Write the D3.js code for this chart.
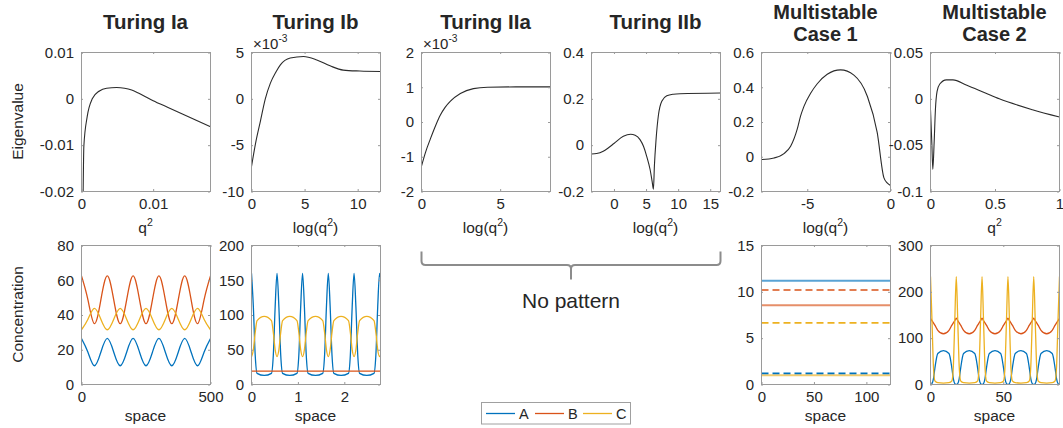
<!DOCTYPE html>
<html>
<head>
<meta charset="utf-8">
<script src="https://cdn.jsdelivr.net/npm/d3@7"></script>
<style>
body { margin: 0; background: #fff; }
</style>
</head>
<body>
<script>
// ---------- data ----------
var seriesNames = ['A', 'B', 'C'];
var seriesColors = ['#0072BD', '#D95319', '#EDB120'];

// top row : dispersion relations
var qIa   = [0.00023, 0.00033, 0.0008, 0.0015, 0.0025, 0.0035, 0.0049, 0.006, 0.007, 0.008, 0.009, 0.010, 0.012, 0.014, 0.016, 0.018];
var eigIa = [-0.02, -0.0102, -0.0038, 0, 0.0017, 0.0023, 0.00245, 0.0023, 0.0019, 0.0012, 0.0004, -0.0004, -0.0018, -0.0032, -0.0046, -0.006];

var logqIb = [0, 0.4, 0.84, 1.3, 1.78, 2.3, 2.72, 3.65, 4.9, 6.15, 7.4, 8.64, 10.2, 12.15];
var eigIb  = [-7.3, -4.7, -2.4, 0, 1.7, 2.9, 3.67, 4.4, 4.57, 4.2, 3.56, 3.1, 3.0, 2.95];   // x 10^-3

var logqIIa = [0, 0.25, 0.57, 0.9, 1.2, 1.5, 1.84, 2.47, 3.3, 4.2, 6, 8.2];
var eigIIa  = [-1.27, -0.88, -0.48, -0.1, 0.2, 0.42, 0.6, 0.82, 0.96, 1.0, 1.01, 1.01]; // x 10^-3

var logqIIb = [-3.5, -2.7, -1.67, -0.9, 0, 1.46, 2.6, 3.3, 4.06, 4.6, 5.1, 5.63, 5.94, 6.15, 6.3, 6.56, 6.93, 7.45, 8.23, 9.27, 10.3, 16.6];
var eigIIb  = [-0.038, -0.036, -0.026, -0.012, 0.007, 0.038, 0.047, 0.043, 0.024, -0.005, -0.048, -0.105, -0.155, -0.19, -0.09, 0.024, 0.13, 0.19, 0.213, 0.22, 0.222, 0.225];

var logqMS1 = [-7.75, -7.0, -6.4, -6.0, -5.6, -5.4, -5.2, -4.8, -4.4, -3.8, -3.0, -2.2, -1.4, -0.8, -0.4, -0.2, 0];
var eigMS1  = [-0.016, -0.007, 0.018, 0.06, 0.16, 0.235, 0.29, 0.365, 0.42, 0.475, 0.5, 0.47, 0.35, 0.14, -0.12, -0.15, -0.165];

var qMS2   = [0, 0.0103, 0.018, 0.028, 0.038, 0.051, 0.072, 0.123, 0.174, 0.277, 0.43, 0.533, 0.79, 1];
var eigMS2 = [-0.0117, -0.0477, -0.076, -0.048, -0.012, 0.008, 0.016, 0.0205, 0.0205, 0.015, 0.006, 0, -0.0117, -0.0196];

// bottom row : concentration profiles
var spaceIa = [0, 25, 50, 75, 100, 125, 150, 175, 200, 225, 250, 275, 300, 325, 350, 375, 400, 425, 450, 475, 500];
var concIaA = [26.5, 18.6, 10.8, 18.6, 26.5, 18.6, 10.8, 18.6, 26.5, 18.6, 10.8, 18.6, 26.5, 18.6, 10.8, 18.6, 26.5, 18.6, 10.8, 18.6, 26.5];
var concIaB = [62.5, 48.7, 35, 48.7, 62.5, 48.7, 35, 48.7, 62.5, 48.7, 35, 48.7, 62.5, 48.7, 35, 48.7, 62.5, 48.7, 35, 48.7, 62.5];
var concIaC = [31.5, 37.6, 43.8, 37.6, 31.5, 37.6, 43.8, 37.6, 31.5, 37.6, 43.8, 37.6, 31.5, 37.6, 43.8, 37.6, 31.5, 37.6, 43.8, 37.6, 31.5];

var spaceIb = [0, 0.04, 0.08, 0.12, 0.275,
  0.43, 0.47, 0.51, 0.55, 0.59, 0.63, 0.67, 0.825,
  0.98, 1.02, 1.06, 1.10, 1.14, 1.18, 1.22, 1.38,
  1.535, 1.575, 1.615, 1.655, 1.695, 1.735, 1.775, 1.93,
  2.09, 2.13, 2.17, 2.21, 2.25, 2.29, 2.33, 2.485,
  2.64, 2.68, 2.72, 2.76, 2.78];
var concIbA = [160, 112, 42, 16, 13,
  16, 42, 112, 160, 112, 42, 16, 13,
  16, 42, 112, 160, 112, 42, 16, 13,
  16, 42, 112, 160, 112, 42, 16, 13,
  16, 42, 112, 160, 112, 42, 16, 13,
  16, 42, 112, 160, 155];
var concIbC = [40, 50, 75, 92, 98,
  92, 75, 50, 40, 50, 75, 92, 98,
  92, 75, 50, 40, 50, 75, 92, 98,
  92, 75, 50, 40, 50, 75, 92, 98,
  92, 75, 50, 40, 50, 75, 92, 98,
  92, 75, 50, 40, 42];
var spaceIbB = [0, 2.78];
var concIbB  = [19.3, 19.3];

var spaceMS1 = [0, 123];
var levelsSolid  = [11.2, 8.55, 1.0];   // A, B, C
var levelsDashed = [1.2, 10.2, 6.65];   // A, B, C

var spaceMS2 = [0, 1, 2, 3, 5, 8.9, 12.7, 14.7, 15.7, 16.7,
  17.7, 18.7, 19.7, 20.7, 22.7, 26.6, 30.4, 32.4, 33.4, 34.4,
  35.4, 36.4, 37.4, 38.4, 40.4, 44.3, 48.2, 50.2, 51.2, 52.2,
  53.2, 54.2, 55.2, 56.2, 58.2, 62.1, 65.9, 67.9, 68.9, 69.9,
  70.9, 71.9, 72.9, 73.9, 75.9, 79.8, 83.6, 85.6, 86.6, 87.6,
  88.6];
var concMS2A = [0, 2, 12, 35, 67, 73, 67, 35, 12, 2,
  0, 2, 12, 35, 67, 73, 67, 35, 12, 2,
  0, 2, 12, 35, 67, 73, 67, 35, 12, 2,
  0, 2, 12, 35, 67, 73, 67, 35, 12, 2,
  0, 2, 12, 35, 67, 73, 67, 35, 12, 2,
  0];
var concMS2B = [143, 138, 133, 128, 117, 109.5, 117, 128, 133, 138,
  143, 138, 133, 128, 117, 109.5, 117, 128, 133, 138,
  143, 138, 133, 128, 117, 109.5, 117, 128, 133, 138,
  143, 138, 133, 128, 117, 109.5, 117, 128, 133, 138,
  143, 138, 133, 128, 117, 109.5, 117, 128, 133, 138,
  143];
var concMS2C = [233, 140, 40, 8, 4, 3, 4, 8, 40, 140,
  233, 140, 40, 8, 4, 3, 4, 8, 40, 140,
  233, 140, 40, 8, 4, 3, 4, 8, 40, 140,
  233, 140, 40, 8, 4, 3, 4, 8, 40, 140,
  233, 140, 40, 8, 4, 3, 4, 8, 40, 140,
  233];

// axis limits and ticks
var titles = [['Turing Ia'], ['Turing Ib'], ['Turing IIa'], ['Turing IIb'], ['Multistable', 'Case 1'], ['Multistable', 'Case 2']];
var topXLabels = [['q', '^2'], ['log(q', '^2', ')'], ['log(q', '^2', ')'], ['log(q', '^2', ')'], ['log(q', '^2', ')'], ['q', '^2']];
var topXDomains = [[0, 0.018], [0, 12.15], [0, 8.2], [-3.5, 16.6], [-7.75, 0], [0, 1]];
var topYDomains = [[-0.02, 0.01], [-10, 5], [-2, 2], [-0.2, 0.4], [-0.2, 0.6], [-0.1, 0.05]];
var topXTicks = [[0, 0.01], [0, 5, 10], [0, 5], [0, 5, 10, 15], [-5, 0], [0, 0.5, 1]];
var topYTicks = [[-0.02, -0.01, 0, 0.01], [-10, -5, 0, 5], [-2, -1, 0, 1, 2], [-0.2, 0, 0.2, 0.4], [-0.2, 0, 0.2, 0.4, 0.6], [-0.1, -0.05, 0, 0.05]];
var topExponent = [null, '-3', '-3', null, null, null];

var botXDomains = {0: [0, 500], 1: [0, 2.78], 4: [0, 123], 5: [0, 88.6]};
var botYDomains = {0: [0, 80], 1: [0, 200], 4: [0, 15], 5: [0, 300]};
var botXTicks = {0: [0, 500], 1: [0, 1, 2], 4: [0, 50, 100], 5: [0, 50]};
var botYTicks = {0: [0, 20, 40, 60, 80], 1: [0, 50, 100, 150, 200], 4: [0, 5, 10, 15], 5: [0, 100, 200, 300]};

// ---------- layout ----------
var W = 1063, H = 428;
var lefts = [81, 251, 421, 591, 761, 930];
var pw = 129, ph = 139;
var topRow = 52, botRow = 245;
var boxColor = '#9a9a9a';
var textColor = '#262626';
var curveColor = '#2b2b2b';
var tickFont = 15;
var fontFam = '"Liberation Sans", Arial, Helvetica, sans-serif';

var svg = d3.select('body').append('svg').attr('width', W).attr('height', H);

function richText(parent, x, y, parts, size, anchor, weight) {
  var t = parent.append('text')
    .attr('x', x).attr('y', y)
    .attr('text-anchor', anchor || 'middle')
    .attr('font-size', size)
    .attr('font-family', fontFam)
    .attr('font-weight', weight || 'normal')
    .attr('fill', textColor);
  var raised = false;
  parts.forEach(function(p) {
    var ts = t.append('tspan');
    if (p.charAt(0) === '^') {
      ts.attr('font-size', size * 0.68).attr('dy', -size * 0.45).text(p.slice(1));
      raised = true;
    } else {
      if (raised) { ts.attr('dy', size * 0.45); raised = false; }
      ts.text(p);
    }
  });
  return t;
}

var clipN = 0;
function makePanel(col, top, xDom, yDom) {
  var g = svg.append('g').attr('transform', 'translate(' + lefts[col] + ',' + top + ')');
  var x = d3.scaleLinear().domain(xDom).range([0.5, pw + 0.5]);
  var y = d3.scaleLinear().domain(yDom).range([ph + 0.5, 0.5]);
  var id = 'clip' + (clipN++);
  g.append('clipPath').attr('id', id).append('rect')
    .attr('x', 0.5).attr('y', 0.5).attr('width', pw).attr('height', ph);
  var plot = g.append('g').attr('clip-path', 'url(#' + id + ')');
  return {g: g, plot: plot, x: x, y: y};
}

function styleAxis(sel) {
  sel.select('.domain').remove();
  sel.selectAll('line').attr('stroke', boxColor);
  sel.selectAll('text')
    .attr('font-size', tickFont)
    .attr('font-family', fontFam)
    .attr('fill', textColor);
}

function finishPanel(p, xTicks, yTicks) {
  var g = p.g;
  var fmt = function(d) { return String(d); };
  g.append('rect').attr('x', 0.5).attr('y', 0.5).attr('width', pw).attr('height', ph)
    .attr('fill', 'none').attr('stroke', boxColor);
  g.append('g').attr('transform', 'translate(0,' + ph + ')')
    .call(d3.axisBottom(p.x).tickValues(xTicks).tickSizeInner(-2).tickSizeOuter(0).tickPadding(7).tickFormat(fmt))
    .call(styleAxis);
  g.append('g')
    .call(d3.axisTop(p.x).tickValues(xTicks).tickSizeInner(-2).tickSizeOuter(0).tickFormat(''))
    .call(styleAxis);
  g.append('g')
    .call(d3.axisLeft(p.y).tickValues(yTicks).tickSizeInner(-2).tickSizeOuter(0).tickPadding(7).tickFormat(fmt))
    .call(styleAxis);
  g.append('g').attr('transform', 'translate(' + pw + ',0)')
    .call(d3.axisRight(p.y).tickValues(yTicks).tickSizeInner(-2).tickSizeOuter(0).tickFormat(''))
    .call(styleAxis);
}

function drawLine(p, xs, ys, color, width, curve, dash) {
  var pts = xs.map(function(d, i) { return [d, ys[i]]; });
  var line = d3.line()
    .x(function(d) { return p.x(d[0]); })
    .y(function(d) { return p.y(d[1]); })
    .curve(curve || d3.curveMonotoneX);
  var path = p.plot.append('path').datum(pts)
    .attr('d', line)
    .attr('fill', 'none')
    .attr('stroke', color)
    .attr('stroke-width', width);
  if (dash) path.attr('stroke-dasharray', dash);
  return path;
}

// ---------- top row ----------
var topX = [qIa, logqIb, logqIIa, logqIIb, logqMS1, qMS2];
var topY = [eigIa, eigIb, eigIIa, eigIIb, eigMS1, eigMS2];

for (var c = 0; c < 6; c++) {
  var p = makePanel(c, topRow, topXDomains[c], topYDomains[c]);
  drawLine(p, topX[c], topY[c], curveColor, 1.1);
  finishPanel(p, topXTicks[c], topYTicks[c]);

  var cx = lefts[c] + pw / 2;
  if (titles[c].length === 1) {
    richText(svg, cx, 29, titles[c], 20.5, 'middle', 'bold');
  } else {
    richText(svg, cx, 18.5, [titles[c][0]], 20, 'middle', 'bold');
    richText(svg, cx, 41, [titles[c][1]], 20, 'middle', 'bold');
  }
  richText(svg, cx, 233, topXLabels[c], 15.5);
  if (topExponent[c]) {
    richText(svg, lefts[c] + 2, 49, ['\u00d710', '^' + topExponent[c]], 15, 'start');
  }
}

richText(svg, 0, 0, ['Eigenvalue'], 15.5)
  .attr('transform', 'translate(23,' + (topRow + ph / 2) + ') rotate(-90)');

// ---------- bottom row ----------
var pIa = makePanel(0, botRow, botXDomains[0], botYDomains[0]);
drawLine(pIa, spaceIa, concIaA, seriesColors[0], 1.3, d3.curveNatural);
drawLine(pIa, spaceIa, concIaB, seriesColors[1], 1.3, d3.curveNatural);
drawLine(pIa, spaceIa, concIaC, seriesColors[2], 1.3, d3.curveNatural);
finishPanel(pIa, botXTicks[0], botYTicks[0]);

var pIb = makePanel(1, botRow, botXDomains[1], botYDomains[1]);
drawLine(pIb, spaceIb, concIbA, seriesColors[0], 1.3);
drawLine(pIb, spaceIbB, concIbB, seriesColors[1], 1.3, d3.curveLinear);
drawLine(pIb, spaceIb, concIbC, seriesColors[2], 1.3);
finishPanel(pIb, botXTicks[1], botYTicks[1]);

// steady states: solid lines are drawn lighter than the dashed ones
var pM1 = makePanel(4, botRow, botXDomains[4], botYDomains[4]);
levelsSolid.forEach(function(v, i) {
  drawLine(pM1, spaceMS1, [v, v], seriesColors[i], 2, d3.curveLinear).attr('stroke-opacity', 0.65);
});
levelsDashed.forEach(function(v, i) {
  drawLine(pM1, spaceMS1, [v, v], seriesColors[i], 1.6, d3.curveLinear, '7,4');
});
finishPanel(pM1, botXTicks[4], botYTicks[4]);

var pM2 = makePanel(5, botRow, botXDomains[5], botYDomains[5]);
drawLine(pM2, spaceMS2, concMS2A, seriesColors[0], 1.3);
drawLine(pM2, spaceMS2, concMS2B, seriesColors[1], 1.3);
drawLine(pM2, spaceMS2, concMS2C, seriesColors[2], 1.3);
finishPanel(pM2, botXTicks[5], botYTicks[5]);

[0, 1, 4, 5].forEach(function(c) {
  richText(svg, lefts[c] + pw / 2, 421, ['space'], 15.5);
});
richText(svg, 0, 0, ['Concentration'], 15.5)
  .attr('transform', 'translate(23,' + (botRow + ph / 2) + ') rotate(-90)');

// ---------- brace + "No pattern" ----------
var bx0 = lefts[2] + 0.5, bx1 = lefts[3] + pw + 0.5, bm = (bx0 + bx1) / 2;
var by0 = 251.5, by1 = 265, by2 = 279.5, r = 4;
var br = d3.path();
br.moveTo(bx0, by0);
br.lineTo(bx0, by1 - r);
br.quadraticCurveTo(bx0, by1, bx0 + r, by1);
br.lineTo(bm - r, by1);
br.quadraticCurveTo(bm, by1, bm, by1 + r);
br.lineTo(bm, by2);
br.moveTo(bm, by1 + r);
br.quadraticCurveTo(bm, by1, bm + r, by1);
br.lineTo(bx1 - r, by1);
br.quadraticCurveTo(bx1, by1, bx1, by1 - r);
br.lineTo(bx1, by0);
svg.append('path').attr('d', br.toString())
  .attr('fill', 'none').attr('stroke', '#8c8c8c').attr('stroke-width', 2);
richText(svg, bm, 308, ['No pattern'], 21);

// ---------- legend ----------
var leg = svg.append('g').attr('transform', 'translate(481.5,402.5)');
leg.append('rect').attr('width', 149).attr('height', 21.5)
  .attr('fill', '#fff').attr('stroke', '#a0a0a0');
var legX = [4.5, 53.5, 101.5];
seriesNames.forEach(function(n, i) {
  leg.append('line').attr('x1', legX[i]).attr('x2', legX[i] + 29)
    .attr('y1', 11).attr('y2', 11)
    .attr('stroke', seriesColors[i]).attr('stroke-width', 1.3);
  richText(leg, legX[i] + 33, 16, [n], 14.5, 'start');
});
</script>
</body>
</html>
